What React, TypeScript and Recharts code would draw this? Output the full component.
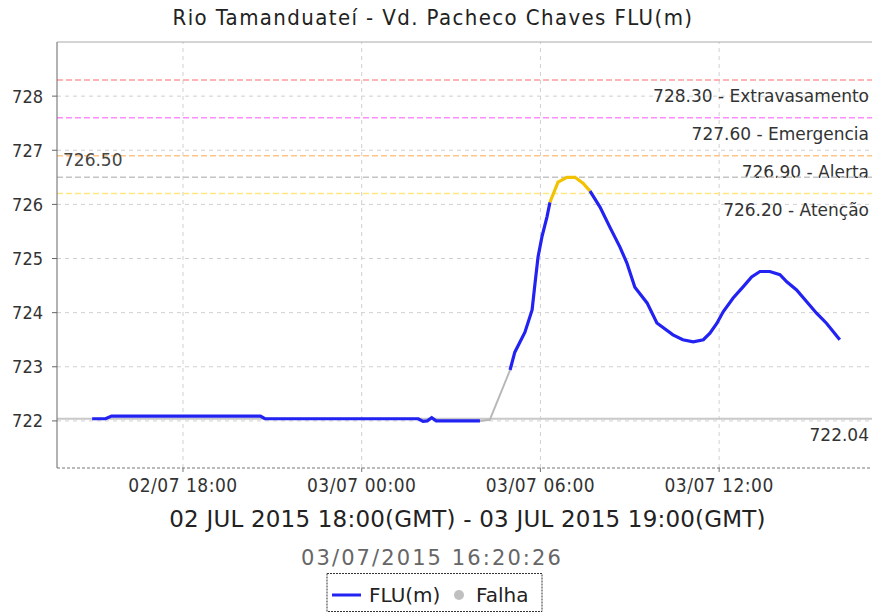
import React from 'react';
import { LineChart, Line, XAxis, YAxis, ReferenceLine } from 'recharts';

// hours since 02/07/2015 00:00 (local time)
const TIMES = [14.95, 15.4, 15.6, 20.6, 20.75, 25.9, 26.06, 26.2, 26.35, 26.5, 27.97, 28.3, 28.98, 29.14, 29.48, 29.72, 29.82, 29.92, 30.05, 30.22, 30.32, 30.59, 30.89, 31.16, 31.43, 31.66, 32.0, 32.33, 32.67, 32.9, 33.17, 33.58, 33.91, 34.45, 34.78, 35.13, 35.47, 35.69, 35.92, 36.14, 36.47, 36.81, 37.09, 37.37, 37.7, 38.04, 38.27, 38.6, 38.94, 39.27, 39.61, 40.05];
const LEVELS = [722.04, 722.04, 722.09, 722.09, 722.04, 722.04, 721.99, 722.0, 722.06, 722.0, 722.0, 722.02, 722.94, 723.27, 723.64, 724.05, 724.55, 725.03, 725.4, 725.77, 726.04, 726.41, 726.5, 726.5, 726.39, 726.25, 725.95, 725.58, 725.21, 724.92, 724.47, 724.18, 723.81, 723.59, 723.5, 723.46, 723.5, 723.62, 723.8, 724.02, 724.27, 724.48, 724.66, 724.76, 724.76, 724.7, 724.57, 724.42, 724.2, 723.99, 723.8, 723.5];
// status of the segment that starts at each point
const STATUS = ['ok', 'ok', 'ok', 'ok', 'ok', 'ok', 'ok', 'ok', 'ok', 'ok', 'falha', 'falha', 'ok', 'ok', 'ok', 'ok', 'ok', 'ok', 'ok', 'ok', 'alert', 'alert', 'alert', 'alert', 'alert', 'ok', 'ok', 'ok', 'ok', 'ok', 'ok', 'ok', 'ok', 'ok', 'ok', 'ok', 'ok', 'ok', 'ok', 'ok', 'ok', 'ok', 'ok', 'ok', 'ok', 'ok', 'ok', 'ok', 'ok', 'ok', 'ok', 'ok'];

const X_TICKS = [18, 24, 30, 36];
const X_TICK_LABELS = ['02/07 18:00', '03/07 00:00', '03/07 06:00', '03/07 12:00'];
const Y_TICKS = [722, 723, 724, 725, 726, 727, 728];
const X_DOMAIN = [13.77, 41.4];
const Y_DOMAIN = [721.13, 729.0];

const THRESHOLD_VALUES = [728.3, 727.6, 726.9, 726.2];
const THRESHOLD_NAMES = ['Extravasamento', 'Emergencia', 'Alerta', 'Atenção'];
const THRESHOLD_COLORS = ['#ff9a9a', '#ff8cff', '#ffc488', '#ffe680'];
const MAX_LEVEL = 726.5;
const MIN_LEVEL = 722.04;

const TITLE = 'Rio Tamanduateí - Vd. Pacheco Chaves FLU(m)';
const RANGE_TEXT = '02 JUL 2015 18:00(GMT) - 03 JUL 2015 19:00(GMT)';
const STAMP_TEXT = '03/07/2015 16:20:26';

const SERIES = ['ok', 'falha', 'alert'];
const rows = TIMES.map((t, i) => {
  const r: any = { t };
  SERIES.forEach((s) => {
    r[s] = STATUS[i] === s || (i > 0 && STATUS[i - 1] === s) ? LEVELS[i] : null;
  });
  return r;
});

const COND = '"DejaVu Sans Condensed", "DejaVu Sans", sans-serif';
const SANS = '"DejaVu Sans", sans-serif';

const rightLabel = (text: string) => (p: any) => {
  const vb = p.viewBox || {};
  return (
    <text x={vb.x + vb.width - 11} y={vb.y + 22} textAnchor="end" fontFamily={SANS} fontSize={17} fill="#333">
      {text}
    </text>
  );
};
const leftLabel = (text: string) => (p: any) => {
  const vb = p.viewBox || {};
  return (
    <text x={vb.x + 6} y={vb.y - 11} textAnchor="start" fontFamily={SANS} fontSize={17} fill="#444">
      {text}
    </text>
  );
};

export default function App() {
  return (
    <div style={{ position: 'absolute', left: 0, top: 0, width: 872, height: 614, background: '#fff', overflow: 'hidden' }}>
      <LineChart width={880} height={614} data={rows} margin={{ top: 42, right: 0, bottom: 0, left: 0 }}>
        {Y_TICKS.map((v) => (
          <ReferenceLine key={`h${v}`} y={v} stroke="#d0d0d0" strokeDasharray="4 4" />
        ))}
        {X_TICKS.map((t) => (
          <ReferenceLine key={`v${t}`} x={t} stroke="#d0d0d0" strokeDasharray="4 4" />
        ))}
        <XAxis
          dataKey="t"
          type="number"
          domain={X_DOMAIN}
          allowDataOverflow
          ticks={X_TICKS}
          tickFormatter={(v: number) => X_TICK_LABELS[X_TICKS.indexOf(v)]}
          height={146}
          tickSize={4}
          tickMargin={7}
          axisLine={{ stroke: '#777', strokeDasharray: '3 2' }}
          tickLine={{ stroke: '#777' }}
          tick={{ fill: '#333', fontSize: 19, fontFamily: COND, letterSpacing: 0.5 }}
        />
        <YAxis
          type="number"
          domain={Y_DOMAIN}
          allowDataOverflow
          ticks={Y_TICKS}
          width={57}
          tickSize={5}
          tickMargin={9}
          axisLine={{ stroke: '#666' }}
          tickLine={{ stroke: '#666' }}
          tick={{ fill: '#333', fontSize: 18, fontFamily: COND }}
        />
        <ReferenceLine y={Y_DOMAIN[1]} stroke="#aaa" ifOverflow="visible" />
        {THRESHOLD_VALUES.map((v, i) => (
          <ReferenceLine
            key={v}
            y={v}
            stroke={THRESHOLD_COLORS[i]}
            strokeWidth={1.5}
            strokeDasharray="6 3"
            label={rightLabel(`${v.toFixed(2)} - ${THRESHOLD_NAMES[i]}`)}
          />
        ))}
        <ReferenceLine y={MAX_LEVEL} stroke="#c4c4c4" strokeWidth={1.5} strokeDasharray="6 3" label={leftLabel(MAX_LEVEL.toFixed(2))} />
        <ReferenceLine y={MIN_LEVEL} stroke="#c8c8c8" strokeWidth={2} label={rightLabel(MIN_LEVEL.toFixed(2))} />
        <Line type="linear" dataKey="falha" stroke="#b8b8b8" strokeWidth={2} dot={false} isAnimationActive={false} />
        <Line type="linear" dataKey="ok" stroke="#2222f2" strokeWidth={3.2} dot={false} isAnimationActive={false} />
        <Line type="linear" dataKey="alert" stroke="#f2c200" strokeWidth={3.2} dot={false} isAnimationActive={false} />
      </LineChart>
      <svg width={872} height={614} style={{ position: 'absolute', left: 0, top: 0, pointerEvents: 'none' }}>
        <text x={433} y={25} textAnchor="middle" fontFamily={COND} fontSize={22} fill="#222" letterSpacing={1.4}>{TITLE}</text>
        <text x={467.5} y={527} textAnchor="middle" fontFamily={SANS} fontSize={23} fill="#222" letterSpacing={0.2}>{RANGE_TEXT}</text>
        <text x={432} y={565} textAnchor="middle" fontFamily={SANS} fontSize={21} fill="#666" letterSpacing={2.1}>{STAMP_TEXT}</text>
        <rect x={327} y={573.5} width={215} height={38} fill="none" stroke="#333" strokeDasharray="2 1" />
        <line x1={332} x2={361} y1={595} y2={595} stroke="#2222f2" strokeWidth={3} />
        <text x={369} y={602} fontFamily={SANS} fontSize={20} fill="#222">FLU(m)</text>
        <circle cx={459} cy={595} r={5} fill="#c0c0c0" />
        <text x={476} y={602} fontFamily={SANS} fontSize={20} fill="#222">Falha</text>
      </svg>
    </div>
  );
}
